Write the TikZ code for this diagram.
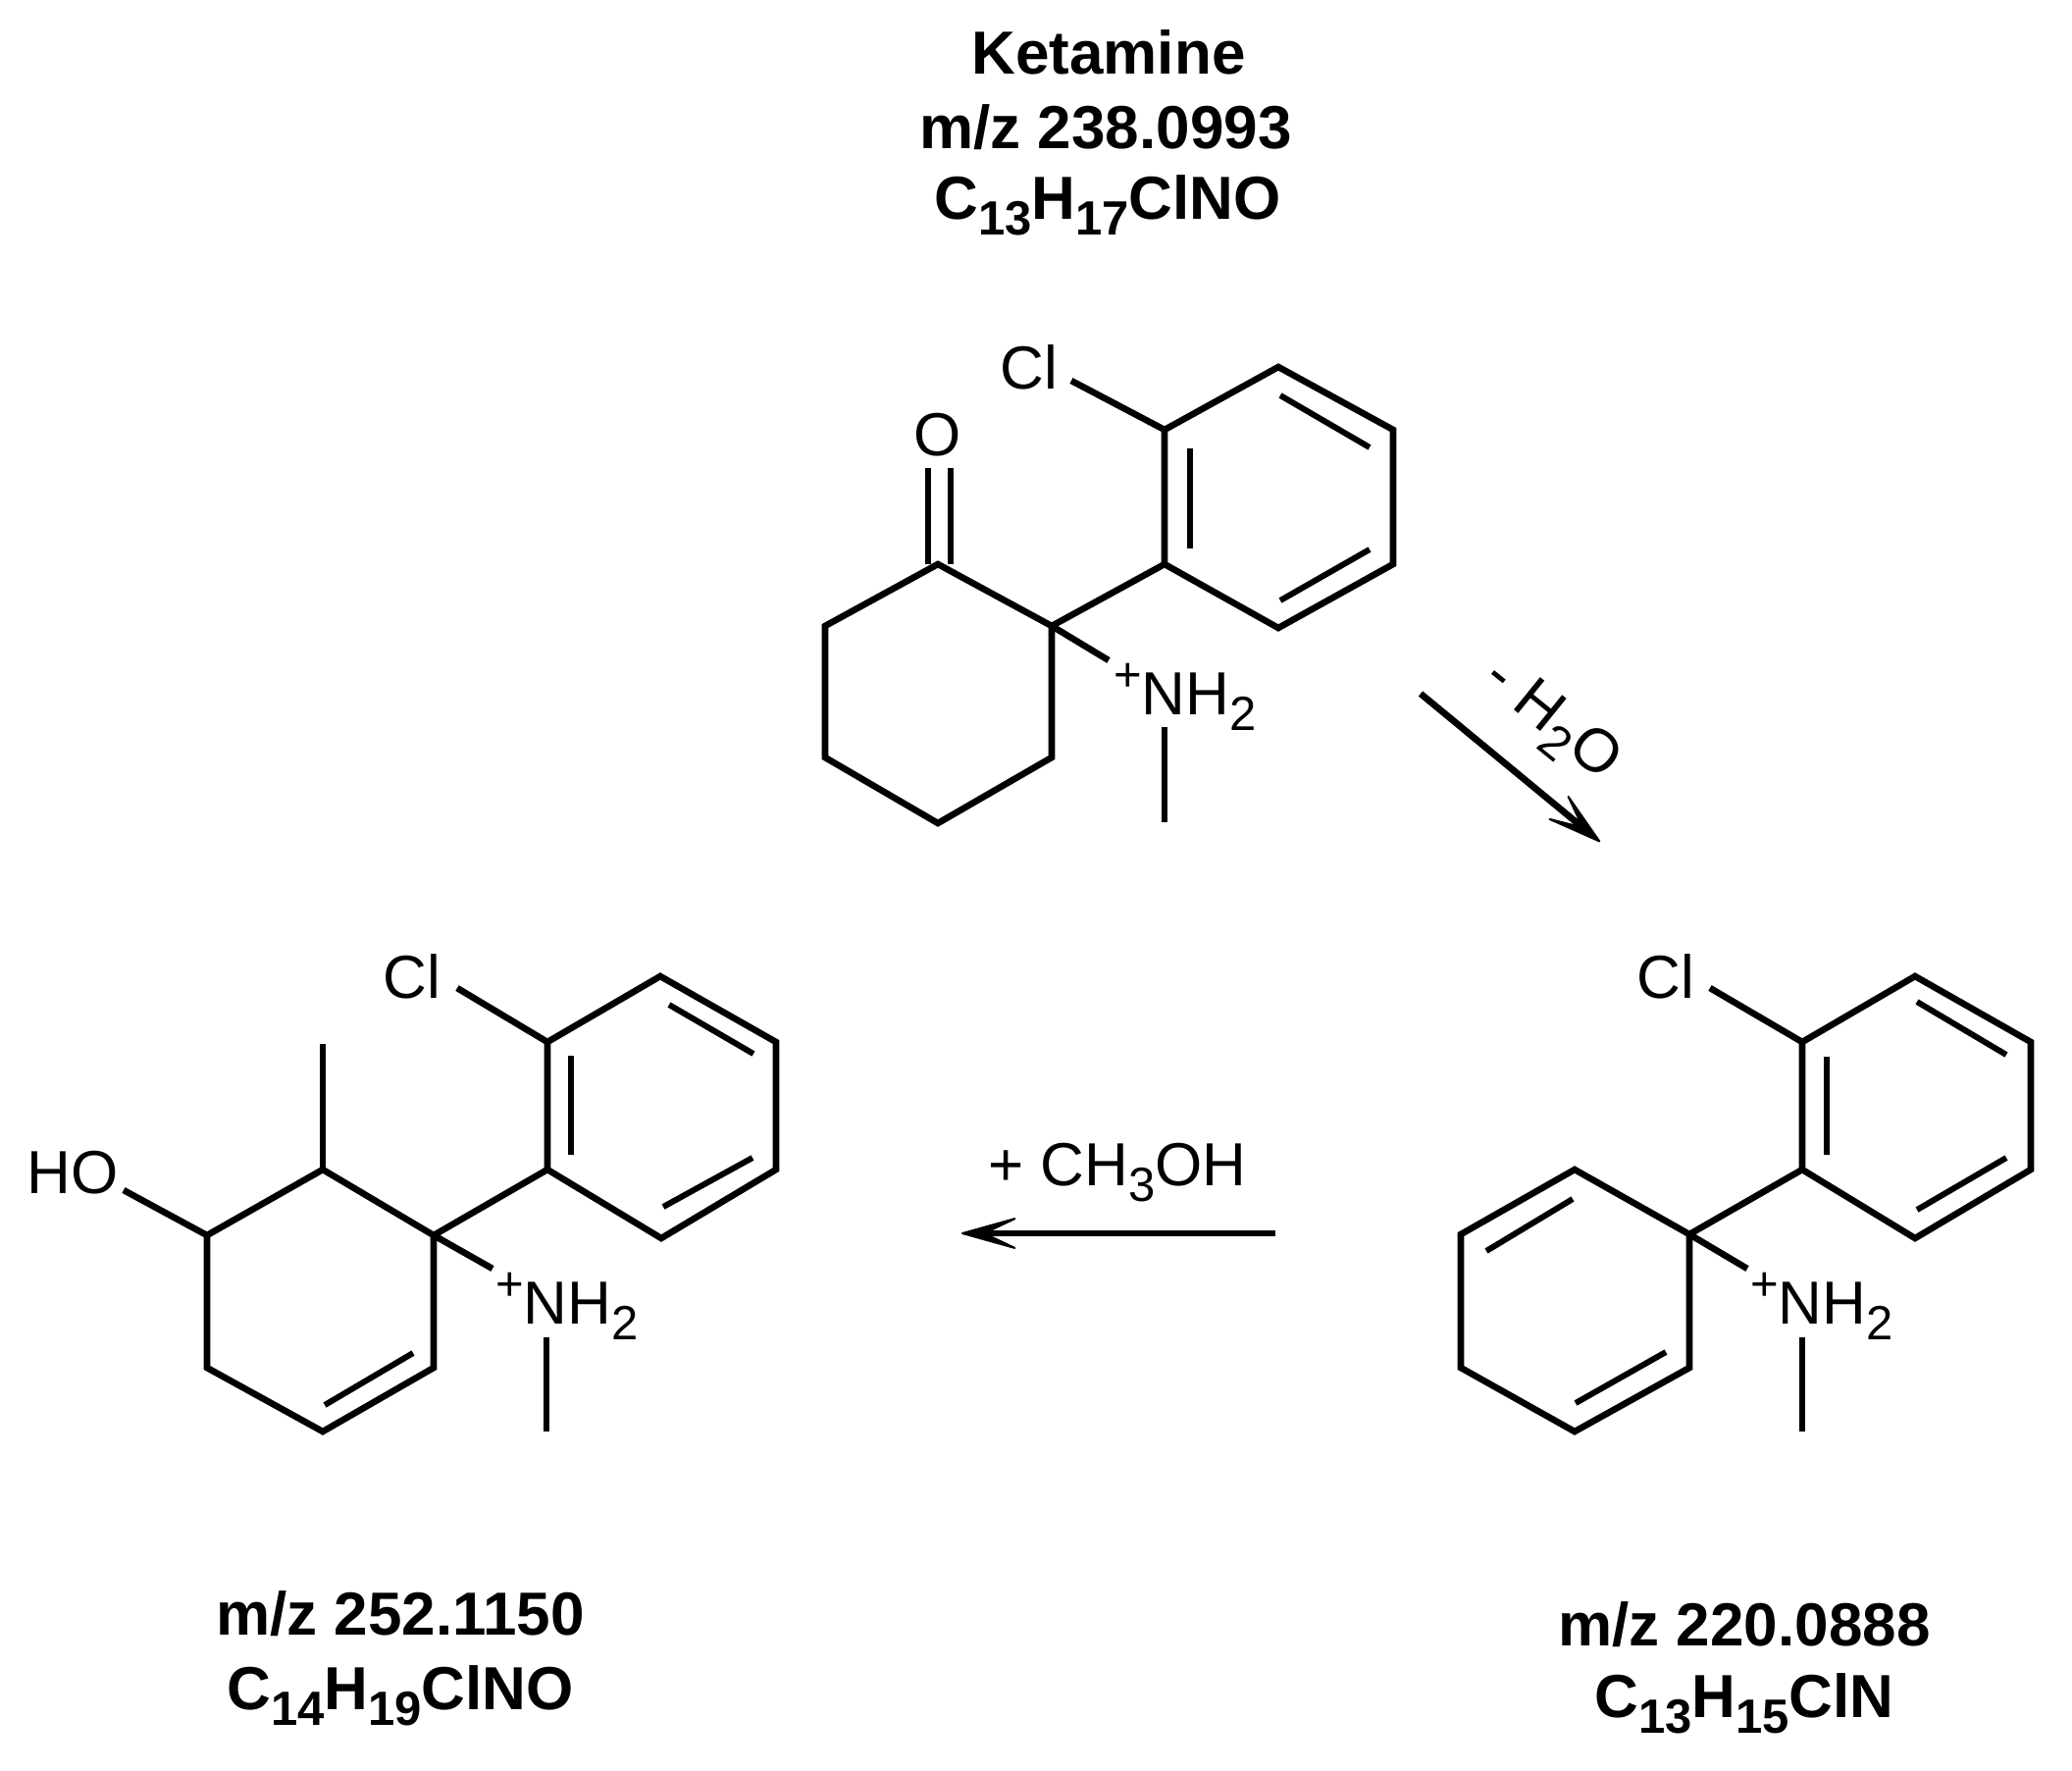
\documentclass[tikz,border=0pt]{standalone}
\usepackage{fontspec}
\setmainfont{Liberation Sans}
\usetikzlibrary{arrows.meta}
\newcommand{\subsc}[1]{\raisebox{-8pt}{\fontsize{24.5}{28}\selectfont #1}}
\newcommand{\plusup}{\raisebox{12pt}{\fontsize{24.5}{28}\selectfont +}}
\tikzset{
  bond/.style={line width=3.3pt,line cap=butt,line join=miter,black},
  inner bond/.style={line width=3pt,line cap=butt,black},
  atom/.style={inner sep=0pt,outer sep=0pt,font=\fontsize{31}{36}\selectfont},
  atom west/.style={atom,anchor=base west},
  title/.style={inner sep=0pt,outer sep=0pt,anchor=base,font=\fontsize{31}{36}\selectfont\bfseries},
  reaction/.style={line width=3.4pt,black,line cap=butt,
    -{Stealth[length=34pt,width=19pt,inset=20pt,line width=1pt,round]}},
}
\begin{document}
\begin{tikzpicture}[x=0.5pt,y=-0.5pt]
\useasboundingbox[fill=white] (0,0) rectangle (2112,1804);

% ---------- titles
\node[title] (t1) at (1130,75) {Ketamine};
\node[title] (t2) at (1127,151) {m/z 238.0993};
\node[title] (t3) at (1129,223) {C\subsc{13}H\subsc{17}ClNO};
\node[title] (t4) at (408,1666) {m/z 252.1150};
\node[title] (t5) at (408,1742) {C\subsc{14}H\subsc{19}ClNO};
\node[title] (t6) at (1778,1677) {m/z 220.0888};
\node[title] (t7) at (1778,1750) {C\subsc{13}H\subsc{15}ClN};

% ---------- ketamine
\coordinate (a1) at (956,575);
\coordinate (a2) at (841,638);
\coordinate (a3) at (841,772);
\coordinate (a4) at (956,839);
\coordinate (a5) at (1072,772);
\coordinate (a6) at (1072,638);
\coordinate (ap1) at (1187,575);
\coordinate (ap2) at (1187,438);
\coordinate (ap3) at (1303,374);
\coordinate (ap4) at (1420,438);
\coordinate (ap5) at (1420,575);
\coordinate (ap6) at (1303,640);
\draw[bond] (a1)--(a2)--(a3)--(a4)--(a5)--(a6)--cycle;
\draw[bond] (ap1)--(ap2)--(ap3)--(ap4)--(ap5)--(ap6)--cycle;
\draw[bond] (a6)--(ap1);
\node[atom] (aO) at (956,443) {O};
\node[atom] (aCl) at (1049,374) {Cl};
\node[atom west] (aN) at (1135,728) {\plusup NH\subsc{2}};
\coordinate (aOl) at (946,575);
\coordinate (aOr) at (969,575);
\coordinate (aOlt) at (946,477);
\coordinate (aOrt) at (969,477);
\draw[bond] (aOl)--(aOlt);
\draw[bond] (aOr)--(aOrt);
\coordinate (aClb) at (1092,388);
\draw[bond] (ap2)--(aClb);
\coordinate (aNb) at (1130,673);
\draw[bond] (a6)--(aNb);
\coordinate (aMt) at (1187,741);
\coordinate (aMb) at (1187,838);
\draw[bond] (aMt)--(aMb);
\coordinate (ai1) at (1213,457);
\coordinate (ai2) at (1213,559);
\coordinate (ai3) at (1305,403);
\coordinate (ai4) at (1396,456);
\coordinate (ai5) at (1305,612);
\coordinate (ai6) at (1396,560);
\draw[inner bond] (ai1)--(ai2);
\draw[inner bond] (ai3)--(ai4);
\draw[inner bond] (ai5)--(ai6);

% ---------- left product
\coordinate (b1) at (442,1259);
\coordinate (b2) at (329,1192);
\coordinate (b3) at (211,1259);
\coordinate (b4) at (211,1394);
\coordinate (b5) at (329,1459);
\coordinate (b6) at (442,1394);
\coordinate (bp1) at (558,1192);
\coordinate (bp2) at (558,1062);
\coordinate (bp3) at (673,995);
\coordinate (bp4) at (791,1062);
\coordinate (bp5) at (791,1192);
\coordinate (bp6) at (674,1262);
\draw[bond] (b1)--(b2)--(b3)--(b4)--(b5)--(b6)--cycle;
\draw[bond] (bp1)--(bp2)--(bp3)--(bp4)--(bp5)--(bp6)--cycle;
\draw[bond] (b1)--(bp1);
\coordinate (bMe) at (329,1064);
\draw[bond] (b2)--(bMe);
\node[atom] (bHO) at (74,1195) {HO};
\coordinate (bHOb) at (126,1213);
\draw[bond] (b3)--(bHOb);
\node[atom] (bCl) at (420,995) {Cl};
\coordinate (bClb) at (466,1007);
\draw[bond] (bp2)--(bClb);
\node[atom west] (bN) at (505,1349) {\plusup NH\subsc{2}};
\coordinate (bNb) at (502,1293);
\draw[bond] (b1)--(bNb);
\coordinate (bMt) at (557,1363);
\coordinate (bMb) at (557,1459);
\draw[bond] (bMt)--(bMb);
\coordinate (bi1) at (582,1076);
\coordinate (bi2) at (582,1177);
\coordinate (bi3) at (682,1024);
\coordinate (bi4) at (768,1074);
\coordinate (bi5) at (676,1230);
\coordinate (bi6) at (767,1180);
\coordinate (bi7) at (331,1432);
\coordinate (bi8) at (421,1379);
\draw[inner bond] (bi1)--(bi2);
\draw[inner bond] (bi3)--(bi4);
\draw[inner bond] (bi5)--(bi6);
\draw[inner bond] (bi7)--(bi8);

% ---------- right product
\coordinate (c1) at (1722,1258);
\coordinate (c2) at (1605,1192);
\coordinate (c3) at (1489,1258);
\coordinate (c4) at (1489,1394);
\coordinate (c5) at (1605,1459);
\coordinate (c6) at (1722,1394);
\coordinate (cp1) at (1837,1192);
\coordinate (cp2) at (1837,1062);
\coordinate (cp3) at (1952,995);
\coordinate (cp4) at (2070,1062);
\coordinate (cp5) at (2070,1192);
\coordinate (cp6) at (1952,1262);
\draw[bond] (c1)--(c2)--(c3)--(c4)--(c5)--(c6)--cycle;
\draw[bond] (cp1)--(cp2)--(cp3)--(cp4)--(cp5)--(cp6)--cycle;
\draw[bond] (c1)--(cp1);
\node[atom] (cCl) at (1698,995) {Cl};
\coordinate (cClb) at (1743,1007);
\draw[bond] (cp2)--(cClb);
\node[atom west] (cN) at (1784,1349) {\plusup NH\subsc{2}};
\coordinate (cNb) at (1781,1293);
\draw[bond] (c1)--(cNb);
\coordinate (cMt) at (1837,1363);
\coordinate (cMb) at (1837,1459);
\draw[bond] (cMt)--(cMb);
\coordinate (ci1) at (1862,1077);
\coordinate (ci2) at (1862,1177);
\coordinate (ci3) at (1954,1021);
\coordinate (ci4) at (2045,1075);
\coordinate (ci5) at (1954,1233);
\coordinate (ci6) at (2045,1180);
\coordinate (ci7) at (1515,1275);
\coordinate (ci8) at (1603,1222);
\coordinate (ci9) at (1606,1430);
\coordinate (ci10) at (1698,1378);
\draw[inner bond] (ci1)--(ci2);
\draw[inner bond] (ci3)--(ci4);
\draw[inner bond] (ci5)--(ci6);
\draw[inner bond] (ci7)--(ci8);
\draw[inner bond] (ci9)--(ci10);

% ---------- reaction arrows
\coordinate (r1s) at (1448,707);
\coordinate (r1e) at (1631,858);
\draw[reaction] (r1s)--(r1e);
\node[atom,rotate=-39] (r1l) at (1580,736) {- H\subsc{2}O};
\coordinate (r2s) at (1300,1257);
\coordinate (r2e) at (980,1257);
\draw[reaction] (r2s)--(r2e);
\node[atom,anchor=base] (r2l) at (1139,1208) {+ CH\subsc{3}OH};
\end{tikzpicture}
\end{document}
